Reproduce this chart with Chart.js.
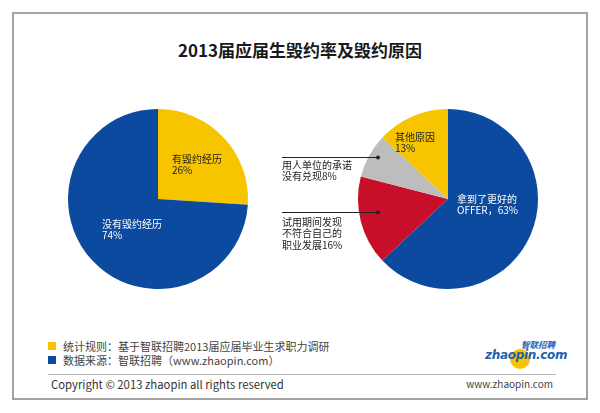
<!DOCTYPE html>
<html lang="zh">
<head>
<meta charset="UTF-8">
<title>2013届应届生毁约率及毁约原因</title>
<script src="https://cdn.jsdelivr.net/npm/chart.js"></script>
<style>
    body {
        margin: 0;
        width: 600px;
        height: 413px;
        background: #fff;
        position: relative;
        overflow: hidden;
        font-family: "Noto Sans CJK SC", "Noto Sans", sans-serif;
    }
    .frame {
        position: absolute;
        left: 12px;
        top: 12px;
        width: 572px;
        height: 384px;
        border: 2px solid #a3a3a3;
        background: #fff;
    }
    .title {
        position: absolute;
        left: 0;
        top: 39px;
        width: 600px;
        text-align: center;
        font-size: 17px;
        font-weight: bold;
        color: #1a1a1a;
        line-height: 22px;
    }
    canvas { position: absolute; }
    .note {
        position: absolute;
        left: 63px;
        font-size: 11px;
        color: #444;
        line-height: 14px;
        white-space: nowrap;
    }
    .sq {
        position: absolute;
        left: 48px;
        width: 8px;
        height: 8px;
    }
    .sep {
        position: absolute;
        left: 48px;
        top: 374px;
        width: 508px;
        height: 1px;
        background: #b8b8b8;
    }
    .copy {
        position: absolute;
        left: 51px;
        top: 376px;
        font-size: 11.3px;
        color: #333;
        line-height: 16px;
        white-space: nowrap;
    }
    .site {
        position: absolute;
        right: 47px;
        top: 376px;
        font-size: 10px;
        color: #444;
        line-height: 16px;
    }
    .logo {
        position: absolute;
        left: 484px;
        top: 340px;
        width: 72px;
        height: 26px;
    }
    .logo .dot {
        position: absolute;
        left: 26px;
        top: 9px;
        width: 20px;
        height: 20px;
        border-radius: 50%;
        background: #f6c500;
    }
    .logo .cn {
        position: absolute;
        left: 37px;
        top: -1px;
        font-size: 8.5px;
        font-weight: bold;
        font-style: italic;
        color: #1f5fb0;
        line-height: 11px;
        white-space: nowrap;
    }
    .logo .en {
        position: absolute;
        left: 1px;
        top: 8px;
        font-family: "DejaVu Sans", sans-serif;
        font-size: 12px;
        font-weight: bold;
        font-style: italic;
        color: #1f5fb0;
        line-height: 14px;
        letter-spacing: -0.3px;
        white-space: nowrap;
    }
</style>
</head>
<body>
<div class="frame"></div>
<div class="title">2013届应届生毁约率及毁约原因</div>

<canvas id="leftPie" width="240" height="200" style="left:40px;top:100px;"></canvas>
<canvas id="rightPie" width="300" height="200" style="left:270px;top:100px;"></canvas>

<div class="sq" style="top:342px;background:#f6c500;"></div>
<div class="note" style="top:339px;">统计规则：基于智联招聘2013届应届毕业生求职力调研</div>
<div class="sq" style="top:356px;background:#0b4a9e;"></div>
<div class="note" style="top:353px;">数据来源：智联招聘（www.zhaopin.com）</div>
<div class="sep"></div>
<div class="copy">Copyright © 2013 zhaopin all rights reserved</div>
<div class="site">www.zhaopin.com</div>
<div class="logo">
    <div class="dot"></div>
    <div class="cn">智联招聘</div>
    <div class="en">zhaopin.com</div>
</div>

<script>
    // left pie: have students broken their contract
    const leftCategories = ["有毁约经历", "没有毁约经历"];
    const leftValues = [26, 74];
    const leftColors = ["#f6c500", "#0b4a9e"];

    // right pie: reasons for breaking the contract
    const rightCategories = ["拿到了更好的OFFER", "试用期间发现不符合自己的职业发展", "用人单位的承诺没有兑现", "其他原因"];
    const rightValues = [63, 16, 8, 13];
    const rightColors = ["#0b4a9e", "#c80f2a", "#bdbdbd", "#f6c500"];

    // label text, in drawing order of the slices
    const leftLabelText = [["有毁约经历", "26%"], ["没有毁约经历", "74%"]];
    const rightLabelText = [["拿到了更好的", "OFFER，63%"], ["试用期间发现", "不符合自己的", "职业发展16%"], ["用人单位的承诺", "没有兑现8%"], ["其他原因", "13%"]];

    // where each label sits, relative to the pie centre (px); lead = draw a pointer line
    const leftLabelPos = [
        { dx: 14, dy: -40, color: "#222" },
        { dx: -56, dy: 25, color: "#fff" }
    ];
    const rightLabelPos = [
        { dx: 9, dy: 0, color: "#fff" },
        { dx: -166, dy: 23, color: "#222", lead: true, leadDy: 13 },
        { dx: -166, dy: -34, color: "#222", lead: true, leadDy: -42 },
        { dx: -53, dy: -62, color: "#222" }
    ];

    const labelPlugin = {
        id: "pieLabels",
        afterDatasetsDraw(chart, args, opts) {
            const ctx = chart.ctx;
            const arcs = chart.getDatasetMeta(0).data;
            if (!arcs.length) return;
            const cx = arcs[0].x, cy = arcs[0].y;
            ctx.save();
            ctx.font = "10px 'Noto Sans CJK SC'";
            ctx.textBaseline = "middle";
            ctx.textAlign = "left";
            opts.text.forEach((lines, i) => {
                const p = opts.pos[i];
                if (p.lead) {
                    const y = cy + p.leadDy;
                    ctx.strokeStyle = "#222";
                    ctx.lineWidth = 1;
                    ctx.beginPath();
                    ctx.moveTo(cx + p.dx, y + 0.5);
                    ctx.lineTo(cx - 70, y + 0.5);
                    ctx.stroke();
                    ctx.fillStyle = "#222";
                    ctx.beginPath();
                    ctx.arc(cx - 70, y + 0.5, 2, 0, Math.PI * 2);
                    ctx.fill();
                }
                ctx.fillStyle = p.color;
                lines.forEach((t, k) => {
                    ctx.fillText(t, cx + p.dx, cy + p.dy + k * 11.5);
                });
            });
            ctx.restore();
        }
    };

    function makePie(id, labels, values, colors, text, pos, padLeft, padRight) {
        return new Chart(document.getElementById(id), {
            type: "pie",
            data: {
                labels: labels,
                datasets: [{
                    data: values,
                    backgroundColor: colors,
                    borderWidth: 0,
                    hoverOffset: 0
                }]
            },
            options: {
                responsive: false,
                animation: false,
                layout: { padding: { left: padLeft, top: 9, right: padRight, bottom: 11 } },
                plugins: {
                    legend: { display: false },
                    tooltip: { enabled: false },
                    pieLabels: { text: text, pos: pos }
                }
            },
            plugins: [labelPlugin]
        });
    }

    // chart area 180 x 180 -> radius 90
    makePie("leftPie", leftCategories, leftValues, leftColors, leftLabelText, leftLabelPos, 28, 32);
    makePie("rightPie", rightCategories, rightValues, rightColors, rightLabelText, rightLabelPos, 88, 32);
</script>
</body>
</html>
